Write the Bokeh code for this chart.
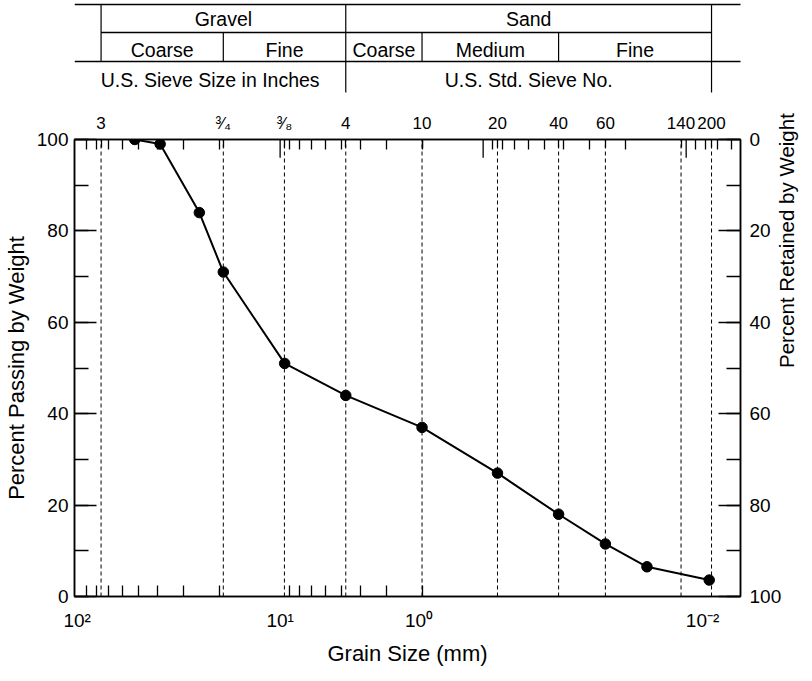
import math
import numpy as np
from bokeh.plotting import figure
from bokeh.models import (Range1d, LinearAxis, LogAxis, FixedTicker,
                          SingleIntervalTicker, CustomJSTickFormatter)
from bokeh.layouts import column
from bokeh.embed import file_html
from bokeh.resources import INLINE
from bokeh.core.properties import value

# ---------------- data ----------------
grain_size_mm = [52, 39, 25, 19.05, 9.5, 4.75, 2.0, 0.85, 0.425, 0.25, 0.156, 0.077]
percent_passing = [100, 99, 84, 71, 51, 44, 37, 27, 18, 11.5, 6.5, 3.6]

sieve_labels = ["3", "³⁄₄", "³⁄₈", "4", "10", "20", "40", "60", "140", "200"]
sieve_mm = [76.2, 19.05, 9.525, 4.75, 2.0, 0.85, 0.425, 0.25, 0.106, 0.075]

bottom_tick_mm = [100, 10, 2.07, 0.083]
bottom_tick_labels = ["10²", "10¹", "10⁰", "10⁻²"]
bottom_minor_mm = [90, 80, 70, 60, 50, 40, 30, 20, 9, 8, 7, 6, 5, 4, 3, 2]
top_minor_mm = [90, 80, 70, 60, 50, 40, 30, 20, 9, 8, 7, 6, 5, 4, 3, 2,
                0.9, 0.8, 0.7, 0.6, 0.5, 0.4, 0.3, 0.2, 0.09, 0.08, 0.07, 0.06]
decade_mm = [10, 1, 0.1]

x_start_mm, x_end_mm = 103, 0.054

major_classes = ["Gravel", "Sand"]
major_bounds = [(76.2, 4.75), (4.75, 0.075)]
sub_classes = ["Coarse", "Fine", "Coarse", "Medium", "Fine"]
sub_bounds = [(76.2, 19.05), (19.05, 4.75), (4.75, 2.0), (2.0, 0.425), (0.425, 0.075)]
sieve_series = ["U.S. Sieve Size in Inches", "U.S. Std. Sieve No."]
sieve_series_bounds = [(x_start_mm, 4.75), (4.75, 0.075)]

# ---------------- layout constants ----------------
FONT = "Liberation Sans"
FW = 666          # frame width
BL, BR = 64, 66
TOP_H = 96
FH = 457          # frame height
BT, BB = 43, 69

xr = Range1d(x_start_mm, x_end_mm)

# ---------------- classification table ----------------
t = figure(frame_width=FW, frame_height=TOP_H, x_range=xr, y_range=Range1d(0, TOP_H),
           x_axis_type="log", x_axis_location=None, y_axis_location=None,
           toolbar_location=None, output_backend="svg",
           min_border_left=BL, min_border_right=BR,
           min_border_top=0, min_border_bottom=0,
           outline_line_color=None, background_fill_color="white",
           border_fill_color="white")
t.grid.visible = False

y_top, y_mid, y_low, y_bot = 92, 64, 35, 4
t.segment(x0=[x_start_mm, major_bounds[0][0], x_start_mm],
          y0=[y_top, y_mid, y_low],
          x1=[x_end_mm * 0.93, major_bounds[1][1], x_end_mm * 0.93],
          y1=[y_top, y_mid, y_low], line_color="black", line_width=1.6)
t.segment(x0=[major_bounds[0][0]], y0=[y_top], x1=[major_bounds[0][0]], y1=[y_low],
          line_color="black", line_width=1.2)
t.segment(x0=[major_bounds[0][1], major_bounds[1][1]], y0=[y_top, y_top],
          x1=[major_bounds[0][1], major_bounds[1][1]], y1=[y_bot, y_bot],
          line_color="black", line_width=1.2)
inner = [b[1] for b in sub_bounds[:-1] if b[1] != major_bounds[0][1]]
t.segment(x0=inner, y0=[y_mid] * len(inner), x1=inner, y1=[y_low] * len(inner),
          line_color="black", line_width=1.2)


def gm(b):
    return float(np.sqrt(b[0] * b[1]))


txt = dict(text_font=value(FONT), text_font_size="19.5px", text_color="black",
           text_align="center", text_baseline="middle")
t.text(x=[gm(b) for b in major_bounds], y=[(y_top + y_mid) / 2] * 2,
       text=major_classes, **txt)
t.text(x=[gm(b) for b in sub_bounds], y=[(y_mid + y_low) / 2 - 3] * 5,
       text=sub_classes, **txt)
t.text(x=[gm(b) for b in sieve_series_bounds], y=[(y_low + y_bot) / 2 - 3] * 2,
       text=sieve_series, **txt)

# ---------------- main chart ----------------
p = figure(frame_width=FW, frame_height=FH, x_range=xr, y_range=Range1d(0, 100),
           x_axis_type="log", toolbar_location=None, output_backend="svg",
           min_border_left=BL, min_border_right=BR,
           min_border_top=BT, min_border_bottom=BB,
           outline_line_color="black", outline_line_width=1.5,
           background_fill_color="white", border_fill_color="white")
p.grid.visible = False
p.extra_y_ranges = {"retained": Range1d(100, 0)}

fmt_code = """
const i = vals.findIndex(v => Math.abs(v - tick) <= 1e-6 * Math.abs(v));
return i >= 0 ? labs[i] : "";
"""


def style_axis(ax, title_size="22px"):
    ax.axis_line_color = "black"
    ax.axis_line_width = 1.5
    ax.major_tick_line_color = "black"
    ax.minor_tick_line_color = "black"
    ax.major_tick_line_width = 1.3
    ax.minor_tick_line_width = 1.3
    ax.major_tick_out = 0
    ax.minor_tick_out = 0
    ax.major_label_text_font = FONT
    ax.major_label_text_font_size = "19px"
    ax.major_label_text_color = "black"
    ax.axis_label_text_font = FONT
    ax.axis_label_text_font_size = title_size
    ax.axis_label_text_font_style = "normal"
    ax.axis_label_text_color = "black"


# bottom axis
xb = p.xaxis[0]
xb.ticker = FixedTicker(ticks=bottom_tick_mm, minor_ticks=bottom_minor_mm)
xb.formatter = CustomJSTickFormatter(args=dict(vals=bottom_tick_mm, labs=bottom_tick_labels),
                                     code=fmt_code)
xb.axis_label = "Grain Size (mm)"
style_axis(xb)
xb.major_tick_in = 0
xb.minor_tick_in = 11
xb.major_label_standoff = 13
xb.axis_label_standoff = 7

# top axis (sieve numbers)
xt = LogAxis(ticker=FixedTicker(ticks=sieve_mm, minor_ticks=top_minor_mm),
             formatter=CustomJSTickFormatter(args=dict(vals=sieve_mm, labs=sieve_labels),
                                             code=fmt_code))
style_axis(xt)
xt.major_tick_in = 8
xt.minor_tick_in = 10
xt.major_label_standoff = 7
xt.major_label_text_font_size = "17px"
p.add_layout(xt, "above")

# left axis
yl = p.yaxis[0]
yl.ticker = SingleIntervalTicker(interval=20, num_minor_ticks=2)
yl.axis_label = "Percent Passing by Weight"
style_axis(yl)
yl.major_tick_in = 22
yl.minor_tick_in = 14
yl.major_label_standoff = 6
yl.axis_label_standoff = 5

# right axis
yr = LinearAxis(y_range_name="retained",
                ticker=SingleIntervalTicker(interval=20, num_minor_ticks=2),
                axis_label="Percent Retained by Weight")
style_axis(yr, title_size="20.5px")
yr.major_tick_in = 22
yr.minor_tick_in = 14
yr.major_label_standoff = 9
yr.axis_label_standoff = 2
yr.axis_label_orientation = math.pi / 2
p.add_layout(yr, "right")

# sieve dashed lines
p.segment(x0=sieve_mm, y0=0, x1=sieve_mm, y1=100,
          line_color="black", line_width=1, line_dash="4 3")
# longer decade ticks on top
p.segment(x0=decade_mm, y0=100, x1=decade_mm, y1=96,
          line_color="black", line_width=1.3)

# gradation curve
p.line(grain_size_mm, percent_passing, line_color="black", line_width=2)
p.scatter(grain_size_mm, percent_passing, size=10.5, fill_color="black", line_color="black")

layout = column(t, p, spacing=0)
open("out.html", "w").write(file_html(layout, INLINE))
